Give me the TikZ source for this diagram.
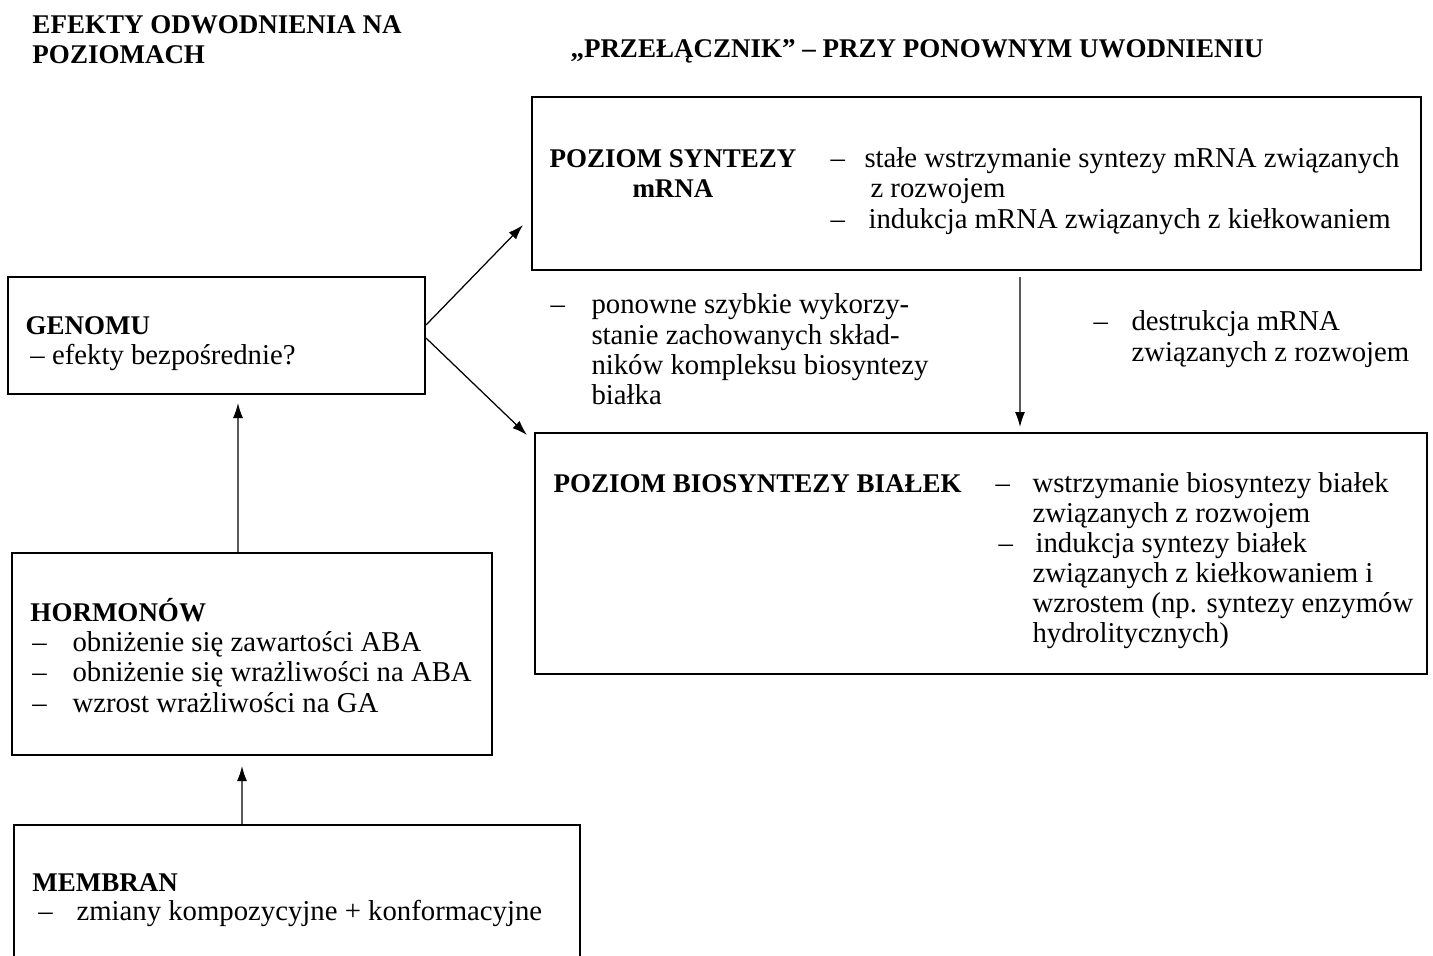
\documentclass[tikz,border=0pt]{standalone}
\usepackage{fontspec}
\setmainfont{Liberation Serif}
\usetikzlibrary{arrows.meta,fit}

\tikzset{
  box/.style={draw, line width=0.8pt, inner sep=0pt},
  txt/.style={anchor=base west, inner sep=0pt, font=\fontsize{11.5}{12}\selectfont},
  head/.style={txt, font=\fontsize{10.8}{12}\selectfont\bfseries},
  arr/.style={-{Latex[length=6pt,width=4pt]}, line width=0.5pt}
}

\begin{document}
\begin{tikzpicture}[x=0.4pt, y=-0.4pt]
\useasboundingbox (0,0) rectangle (1433,955);
\clip (0,0) rectangle (1433,955);

% Titles
\node[head] (tl1) at (32,33) {EFEKTY ODWODNIENIA NA};
\node[head] (tl2) at (32,63) {POZIOMACH};
\node[head] (tr1) at (570,57) {„PRZEŁĄCZNIK” \textendash{} PRZY PONOWNYM UWODNIENIU};

% Boxes
\node[box, fit={(532,97) (1421,270)}] (mrna) {};
\node[box, fit={(535,433) (1427,674)}] (bialko) {};
\node[box, fit={(8,277) (425,394)}] (genom) {};
\node[box, fit={(12,553) (492,755)}] (hormony) {};
\node[box, fit={(14,825) (580,990)}] (membrany) {};

% mRNA level
\node[head] (m1) at (549,167) {POZIOM SYNTEZY};
\node[head] (m2) at (632,197) {mRNA};
\node[txt] (m3) at (830,167) {\textendash};
\node[txt] (m4) at (864,167) {stałe wstrzymanie syntezy mRNA związanych};
\node[txt] (m5) at (870,197) {z rozwojem};
\node[txt] (m6) at (830,228) {\textendash};
\node[txt] (m7) at (868,228) {indukcja mRNA związanych z kiełkowaniem};

% between the two levels
\node[txt] (s1) at (550,313) {\textendash};
\node[txt] (s2) at (591,313) {ponowne szybkie wykorzy-};
\node[txt] (s3) at (591,344) {stanie zachowanych skład-};
\node[txt] (s4) at (591,374) {ników kompleksu biosyntezy};
\node[txt] (s5) at (591,404) {białka};
\node[txt] (d1) at (1093,330) {\textendash};
\node[txt] (d2) at (1131,330) {destrukcja mRNA};
\node[txt] (d3) at (1131,361) {związanych z rozwojem};

% protein level
\node[head] (b1) at (553,492) {POZIOM BIOSYNTEZY BIAŁEK};
\node[txt] (b2) at (995,492) {\textendash};
\node[txt] (b3) at (1032,492) {wstrzymanie biosyntezy białek};
\node[txt] (b4) at (1032,522) {związanych z rozwojem};
\node[txt] (b5) at (998,552) {\textendash};
\node[txt] (b6) at (1035,552) {indukcja syntezy białek};
\node[txt] (b7) at (1032,582) {związanych z kiełkowaniem i};
\node[txt] (b8) at (1032,612) {wzrostem (np. syntezy enzymów};
\node[txt] (b9) at (1032,642) {hydrolitycznych)};

% genome
\node[head] (g1) at (25,334) {GENOMU};
\node[txt] (g2) at (30,364) {\textendash{} efekty bezpośrednie?};

% hormones
\node[head] (h1) at (30,621) {HORMONÓW};
\node[txt] (h2) at (32,651) {\textendash};
\node[txt] (h3) at (72,651) {obniżenie się zawartości ABA};
\node[txt] (h4) at (32,681) {\textendash};
\node[txt] (h5) at (72,681) {obniżenie się wrażliwości na ABA};
\node[txt] (h6) at (32,712) {\textendash};
\node[txt] (h7) at (72,712) {wzrost wrażliwości na GA};

% membranes
\node[head] (r1) at (32,891) {MEMBRAN};
\node[txt] (r2) at (38,920) {\textendash};
\node[txt] (r3) at (76,920) {zmiany kompozycyjne + konformacyjne};

% Arrows
\coordinate (tipA) at (523,225);
\coordinate (tipB) at (527,435);
\draw[arr] ([yshift=4.2pt]genom.east) -- (tipA);
\draw[arr] ([yshift=-1pt]genom.east) -- (tipB);
\draw[arr] ([xshift=17.4pt, yshift=-2.4pt]mrna.south) -- ([xshift=15.6pt, yshift=2pt]bialko.north);
\draw[arr] ([xshift=-5.6pt]hormony.north) -- ([xshift=8.6pt, yshift=-3.2pt]genom.south);
\draw[arr] ([xshift=-22pt]membrany.north) -- ([xshift=-4pt, yshift=-4pt]hormony.south);
\end{tikzpicture}
\end{document}
